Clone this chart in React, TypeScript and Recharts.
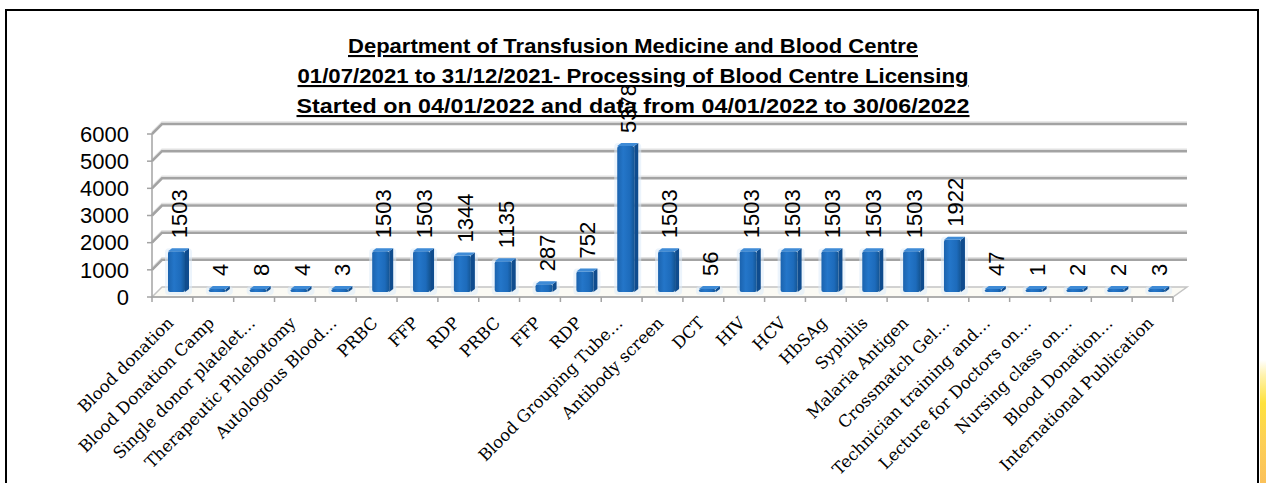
import React from "react";
import { BarChart, Bar, XAxis, YAxis, CartesianGrid, LabelList } from "recharts";

const categories = [
  "Blood donation",
  "Blood Donation Camp",
  "Single donor platelet…",
  "Therapeutic Phlebotomy",
  "Autologous Blood…",
  "PRBC",
  "FFP",
  "RDP",
  "PRBC",
  "FFP",
  "RDP",
  "Blood Grouping Tube…",
  "Antibody screen",
  "DCT",
  "HIV",
  "HCV",
  "HbSAg",
  "Syphilis",
  "Malaria Antigen",
  "Crossmatch Gel…",
  "Technician training and…",
  "Lecture for Doctors on…",
  "Nursing class on…",
  "Blood Donation…",
  "International Publication",
];

const counts = [
  1503, 4, 8, 4, 3, 1503, 1503, 1344, 1135, 287, 752, 5378, 1503, 56, 1503,
  1503, 1503, 1503, 1503, 1922, 47, 1, 2, 2, 3,
];

const yTicks = [0, 1000, 2000, 3000, 4000, 5000, 6000];

const titleLines = [
  "Department of Transfusion Medicine and Blood Centre",
  "01/07/2021 to 31/12/2021- Processing of Blood Centre Licensing",
  "Started on 04/01/2022 and data from 04/01/2022 to 30/06/2022",
];

const data = categories.map((name, i) => ({ name, count: counts[i] }));

// layout
const W = 1266;
const H = 483;
const PLOT_LEFT = 152;
const PLOT_RIGHT = 1173;
const PLOT_TOP = 134;
const PLOT_BOTTOM = 297;
const Y_AXIS_W = 80;
const X_AXIS_H = 30;
const BAND = (PLOT_RIGHT - PLOT_LEFT) / categories.length;
const GRID = "#a3a3a3";

const gridLine = (p: any) => {
  const { x1, x2, y1 } = p;
  if (y1 >= PLOT_BOTTOM - 1) {
    return (
      <polygon
        key={p.key}
        points={`${x1},${y1} ${x1 + 10},${y1 - 10} ${x2 + 14},${y1 - 10} ${x2},${y1}`}
        fill="#fbfaf4"
        stroke="#c4c4c4"
        strokeWidth={1.5}
      />
    );
  }
  return (
    <g key={p.key}>
      <polyline
        points={`${x1},${y1 - 2} ${x1 + 10},${y1 - 12} ${x2 + 14},${y1 - 12}`}
        fill="none"
        stroke="#e2e2e2"
        strokeWidth={1.5}
      />
      <polyline
        points={`${x1},${y1} ${x1 + 10},${y1 - 10} ${x2 + 14},${y1 - 10}`}
        fill="none"
        stroke={GRID}
        strokeWidth={2.5}
      />
    </g>
  );
};

// 3d-ish column, pushed back half the wall depth
const Column = (props: any) => {
  const { x, y, width, height } = props;
  const sx = x + 4;
  const sy = y - 5;
  const d = 4;
  return (
    <g>
      <rect
        x={sx - 3}
        y={sy - 3}
        width={width + d + 6}
        height={height + 6}
        rx={4}
        fill="#dcebfa"
        opacity={0.55}
      />
      <polygon
        points={`${sx + width},${sy} ${sx + width + d},${sy - 3} ${sx + width + d},${sy + height - 3} ${sx + width},${sy + height}`}
        fill="#0f4c8e"
      />
      <rect x={sx} y={sy} width={width} height={height} rx={2} fill="url(#colFront)" />
      <polygon
        points={`${sx},${sy} ${sx + d},${sy - 3} ${sx + width + d},${sy - 3} ${sx + width},${sy}`}
        fill="#3f8bd6"
      />
    </g>
  );
};

const renderValue = (p: any) => {
  const { x, y, width, value } = p;
  const lx = x + width / 2 + 7;
  const ly = y - 18;
  return (
    <text
      x={lx}
      y={ly}
      transform={`rotate(-90 ${lx} ${ly})`}
      textAnchor="start"
      dominantBaseline="central"
      fontFamily="Liberation Sans"
      fontSize={22}
      fill="#000"
    >
      {value}
    </text>
  );
};

const CatTick = (p: any) => {
  const { x, index, payload } = p;
  const ax = x + 2;
  const ay = 324;
  const left = x - BAND / 2;
  return (
    <g>
      <line x1={left} y1={PLOT_BOTTOM} x2={left} y2={PLOT_BOTTOM + 5} stroke={GRID} strokeWidth={1.5} />
      {index === categories.length - 1 && (
        <line x1={x + BAND / 2} y1={PLOT_BOTTOM} x2={x + BAND / 2} y2={PLOT_BOTTOM + 5} stroke={GRID} strokeWidth={1.5} />
      )}
      <text
        x={ax}
        y={ay}
        transform={`rotate(-45 ${ax} ${ay})`}
        textAnchor="end"
        fontFamily="'DejaVu Serif', serif"
        fontSize={16.5}
        fill="#000"
      >
        {payload.value}
      </text>
    </g>
  );
};

export default function App() {
  return (
    <div style={{ position: "absolute", left: 0, top: 0, width: W, height: H, overflow: "hidden", background: "#fff" }}>
      <div
        style={{
          position: "absolute",
          left: 5,
          top: 9,
          width: 1254,
          height: 520,
          border: "2px solid #000",
          boxSizing: "border-box",
        }}
      />
      <div
        style={{
          position: "absolute",
          left: 1260,
          top: 360,
          width: 6,
          height: 123,
          background: "linear-gradient(to bottom, #ffffff 0%, #fff3b0 12%, #ffe23c 35%, #fdd055 65%, #fbc15a 100%)",
        }}
      />
      <svg style={{ position: "absolute", left: 0, top: 0 }} width={W} height={H}>
        {titleLines.map((t, i) => (
          <text
            key={i}
            x={633}
            y={53 + i * 30}
            textAnchor="middle"
            fontFamily="Liberation Sans"
            fontWeight="bold"
            fontSize={21}
            textLength={[570, 671, 673][i]}
            lengthAdjust="spacingAndGlyphs"
            style={{ textDecoration: "underline" }}
            fill="#000"
          >
            {t}
          </text>
        ))}
      </svg>
      <div style={{ position: "absolute", left: 0, top: 0 }}>
        <BarChart
          width={W}
          height={H}
          data={data}
          barSize={17}
          margin={{
            top: PLOT_TOP,
            bottom: H - PLOT_BOTTOM - X_AXIS_H,
            left: PLOT_LEFT - Y_AXIS_W,
            right: W - PLOT_RIGHT,
          }}
        >
          <defs>
            <linearGradient id="colFront" x1="0" y1="0" x2="1" y2="0">
              <stop offset="0%" stopColor="#1b63ae" />
              <stop offset="35%" stopColor="#2476c9" />
              <stop offset="75%" stopColor="#1d6bbb" />
              <stop offset="100%" stopColor="#145594" />
            </linearGradient>
          </defs>
          <CartesianGrid vertical={false} horizontal={gridLine} />
          <XAxis
            dataKey="name"
            interval={0}
            height={X_AXIS_H}
            tickLine={false}
            axisLine={{ stroke: GRID, strokeWidth: 1.5 }}
            tick={<CatTick />}
          />
          <YAxis
            width={Y_AXIS_W}
            domain={[0, 6000]}
            ticks={yTicks}
            interval={0}
            tickSize={5}
            tickMargin={18}
            axisLine={{ stroke: GRID, strokeWidth: 1.5 }}
            tickLine={{ stroke: GRID, strokeWidth: 1.5 }}
            tick={{ fill: "#000", fontSize: 22, fontFamily: "Liberation Sans" }}
          />
          <Bar dataKey="count" shape={<Column />} minPointSize={3} isAnimationActive={false}>
            <LabelList dataKey="count" content={renderValue} />
          </Bar>
        </BarChart>
      </div>
    </div>
  );
}
